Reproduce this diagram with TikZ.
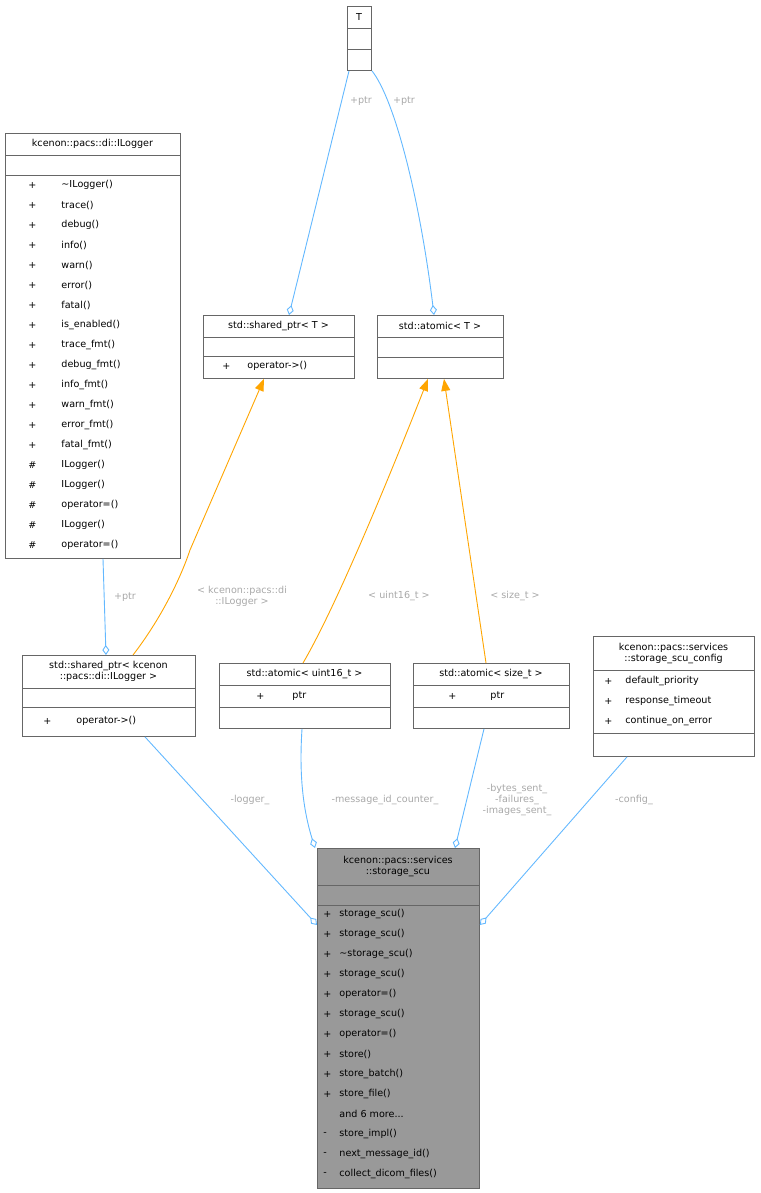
\documentclass[tikz,border=0pt]{standalone}
\usepackage{fontspec}
\setmainfont{DejaVu Sans}
\usetikzlibrary{arrows.meta}
\definecolor{edgeblue}{HTML}{63B8FF}
\definecolor{edgeorange}{HTML}{FFA500}
\definecolor{lblgray}{HTML}{A8A8A8}
\newcommand{\moredots}{.\kern0pt.\kern0pt.}
\newcommand{\tld}{\char"7E\relax}
\begin{document}
\begin{tikzpicture}[x=1pt,y=-1pt,font=\fontsize{9.6}{11}\selectfont,line width=0.9pt,
  box/.style={draw=black!60,fill=white,inner sep=0pt,anchor=north west},
  txt/.style={inner sep=0pt,anchor=west},
  ttl/.style={inner sep=0pt,align=center},
  sep/.style={draw=black!60},
  assoc/.style={draw=edgeblue,{Diamond[open,length=10pt,width=7pt]}-},
  inherit/.style={draw=edgeorange,-{Triangle[length=12pt,width=9pt,fill=edgeorange]}},
  lbl/.style={text=lblgray,inner sep=0pt,align=center}]
\useasboundingbox (0,0) rectangle (760,1193);

% class boxes
\node[box,minimum width=24pt,minimum height=64pt] (T) at (347,6) {};
\node[ttl] at (359,17) {T};
\draw[sep] (347,28) -- (371,28) (347,49) -- (371,49);

\node[box,minimum width=175pt,minimum height=425pt] (ilog) at (5,133) {};
\node[ttl] at (92.5,144) {kcenon::pacs::di::ILogger};
\draw[sep] (5,155) -- (180,155) (5,175) -- (180,175);
\foreach \i/\v/\m in {0/+/\tld ILogger(), 1/+/trace(), 2/+/debug(), 3/+/info(),
                      4/+/warn(), 5/+/error(), 6/+/fatal(), 7/+/is\_enabled(),
                      8/+/trace\_fmt(), 9/+/debug\_fmt(), 10/+/info\_fmt(), 11/+/warn\_fmt(),
                      12/+/error\_fmt(), 13/+/fatal\_fmt(), 14/\#/ILogger(), 15/\#/ILogger(),
                      16/\#/operator=(), 17/\#/ILogger(), 18/\#/operator=()}
  {\node[txt] at (28,185+20*\i) {\v};
   \node[txt] at (61,185+20*\i) {\m};}

\node[box,minimum width=151pt,minimum height=63pt] (spT) at (203,315) {};
\node[ttl] at (278.5,326) {std::shared\_ptr< T >};
\draw[sep] (203,337) -- (354,337) (203,356) -- (354,356);
\node[txt] at (222,366) {+}; \node[txt] at (247,366) {operator->()};

\node[box,minimum width=126pt,minimum height=63pt] (atT) at (377,315) {};
\node[ttl] at (440,326) {std::atomic< T >};
\draw[sep] (377,337) -- (503,337) (377,357) -- (503,357);

\node[box,minimum width=173pt,minimum height=81pt] (spL) at (22,655) {};
\node[ttl] at (108.5,671.5) {std::shared\_ptr< kcenon\\::pacs::di::ILogger >};
\draw[sep] (22,688) -- (195,688) (22,707) -- (195,707);
\node[txt] at (43,721) {+}; \node[txt] at (76,721) {operator->()};

\node[box,minimum width=171pt,minimum height=65pt] (at16) at (219,663) {};
\node[ttl] at (304.5,674) {std::atomic< uint16\_t >};
\draw[sep] (219,685) -- (390,685) (219,707) -- (390,707);
\node[txt] at (256,696) {+}; \node[txt] at (292,696) {ptr};

\node[box,minimum width=156pt,minimum height=65pt] (atsz) at (413,663) {};
\node[ttl] at (491,674) {std::atomic< size\_t >};
\draw[sep] (413,685) -- (569,685) (413,707) -- (569,707);
\node[txt] at (448,696) {+}; \node[txt] at (490,696) {ptr};

\node[box,minimum width=161pt,minimum height=120pt] (cfg) at (593,636) {};
\node[ttl] at (673.5,653) {kcenon::pacs::services\\::storage\_scu\_config};
\draw[sep] (593,670) -- (754,670) (593,733) -- (754,733);
\foreach \i/\m in {0/default\_priority, 1/response\_timeout, 2/continue\_on\_error}
  {\node[txt] at (604,681+20*\i) {+};
   \node[txt] at (625,681+20*\i) {\m};}

\node[box,fill=black!40,minimum width=162pt,minimum height=340pt] (scu) at (317,848) {};
\node[ttl] at (398,866.5) {kcenon::pacs::services\\::storage\_scu};
\draw[sep] (317,885) -- (479,885) (317,905) -- (479,905);
\foreach \i/\v/\m in {0/+/storage\_scu(), 1/+/storage\_scu(), 2/+/\tld storage\_scu(),
                      3/+/storage\_scu(), 4/+/operator=(), 5/+/storage\_scu(), 6/+/operator=(),
                      7/+/store(), 8/+/store\_batch(), 9/+/store\_file(), 10//and 6 more\moredots,
                      11/-/store\_impl(), 12/-/next\_message\_id(), 13/-/collect\_dicom\_files()}
  {\node[txt] at (323,914+20*\i) {\v};
   \node[txt] at (339,914+20*\i) {\m};}

% connectors
\draw[assoc] ([xshift=86pt]spT.north west) -- ([xshift=2pt]T.south west);
\draw[assoc] ([xshift=57pt]atT.north west) .. controls (420,200) and (395,100) .. ([xshift=25pt]T.south west);
\draw[assoc] ([xshift=84pt]spL.north west) -- ([xshift=98pt]ilog.south west);
\draw[inherit] ([xshift=111pt]spL.north west) .. controls (160,620) and (180,580) .. (190,550) -- ([xshift=61pt]spT.south west);
\draw[inherit] ([xshift=84pt]at16.north west) .. controls (340,600) and (400,450) .. ([xshift=51pt]atT.south west);
\draw[inherit] ([xshift=73pt]atsz.north west) -- ([xshift=67pt]atT.south west);
\draw[assoc] ([yshift=-77pt]scu.north west) -- ([xshift=123pt]spL.south west);
\draw[assoc] ([xshift=-2pt]scu.north west) .. controls (300,800) and (300,760) .. ([xshift=83pt]at16.south west);
\draw[assoc] ([xshift=138pt]scu.north west) -- ([xshift=71pt]atsz.south west);
\draw[assoc] ([yshift=-77pt]scu.north east) -- ([xshift=34pt]cfg.south west);

% labels
\node[lbl] at (361,101) {+ptr};
\node[lbl] at (404,101) {+ptr};
\node[lbl] at (125,597) {+ptr};
\node[lbl] at (242,596) {< kcenon::pacs::di\\::ILogger >};
\node[lbl] at (399,596) {< uint16\_t >};
\node[lbl] at (515,596) {< size\_t >};
\node[lbl] at (250,800) {-logger\_};
\node[lbl] at (385,800) {-message\_id\_counter\_};
\node[lbl] at (517,800) {-bytes\_sent\_\\-failures\_\\-images\_sent\_};
\node[lbl] at (634,800) {-config\_};
\end{tikzpicture}
\end{document}
